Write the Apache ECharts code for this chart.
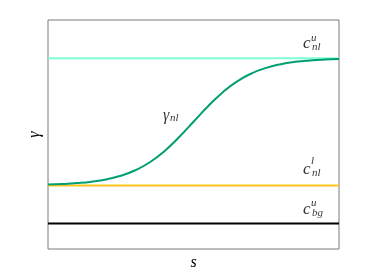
<!DOCTYPE html>
<html><head><meta charset="utf-8">
<script src="https://cdn.jsdelivr.net/npm/echarts@6/dist/echarts.min.js"></script>
<style>html,body{margin:0;padding:0;background:#fff}#c{width:374px;height:280px}</style>
</head><body><div id="c"></div>
<script>
// data (s in [0,1], gamma in [0,1.8])
const sValues = [0,0.05,0.1,0.15,0.2,0.25,0.3,0.35,0.4,0.45,0.5,0.55,0.6,0.65,0.7,0.75,0.8,0.85,0.9,0.95,1];
const gammaNl = [0.507,0.511,0.518,0.529,0.547,0.576,0.619,0.682,0.769,0.878,1.0,1.122,1.231,1.318,1.381,1.424,1.453,1.471,1.482,1.489,1.493];
const cNlUpper = 1.5;
const cNlLower = 0.5;
const cBgUpper = 0.2;
const sRange = [0, 1];
const gammaRange = [0, 1.8];
// label anchors (data space)
const labelAnchors = {
  nlu: [0.876, 1.612],
  nll: [0.876, 0.625],
  bgu: [0.876, 0.31],
  gnl: [0.395, 1.046]
};

const serif = '"Liberation Serif", "DejaVu Serif", serif';
function piece(pt, text, size, offset) {
  return {
    value: pt,
    label: {show: true, formatter: text, position: [0, 0], align: 'left', verticalAlign: 'middle',
      offset: offset, fontFamily: serif, fontStyle: 'italic', fontSize: size, color: '#000'}
  };
}
function hline(v, color) {
  return {type: 'line', data: [[sRange[0], v], [sRange[1], v]], symbol: 'none', silent: true,
    lineStyle: {color: color, width: 2}, z: 2};
}
const chart = echarts.init(document.getElementById('c'), null, {renderer: 'canvas'});
chart.setOption({
  animation: false,
  grid: {left: 48, top: 20, right: 35, bottom: 31, show: true, borderColor: '#7a7a7a', borderWidth: 1,
    containLabel: false, outerBoundsMode: 'none'},
  xAxis: {type: 'value', min: sRange[0], max: sRange[1], axisLine: {show: false}, axisTick: {show: false},
    axisLabel: {show: false}, splitLine: {show: false},
    name: 's', nameLocation: 'middle', nameGap: 6,
    nameTextStyle: {fontFamily: serif, fontStyle: 'italic', fontSize: 16, color: '#000'}},
  yAxis: {type: 'value', min: gammaRange[0], max: gammaRange[1], axisLine: {show: false}, axisTick: {show: false},
    axisLabel: {show: false}, splitLine: {show: false},
    name: 'γ', nameLocation: 'middle', nameGap: 5,
    nameTextStyle: {fontFamily: serif, fontStyle: 'italic', fontSize: 16, color: '#000'}},
  series: [
    hline(cNlUpper, '#7fffd4'),
    hline(cNlLower, '#ffc61a'),
    hline(cBgUpper, '#000000'),
    {type: 'line', data: sValues.map((s, i) => [s, gammaNl[i]]), smooth: true, symbol: 'none', silent: true,
      lineStyle: {color: '#009e73', width: 2}, z: 3},
    {type: 'scatter', symbolSize: 0, silent: true, z: 5, data: [
      piece(labelAnchors.nlu, 'c', 17, [0, 0]),
      piece(labelAnchors.nlu, 'u', 11, [8, -6]),
      piece(labelAnchors.nlu, 'nl', 11, [9, 3]),
      piece(labelAnchors.nll, 'c', 17, [0, 0]),
      piece(labelAnchors.nll, 'l', 11, [8, -8]),
      piece(labelAnchors.nll, 'nl', 11, [9, 4]),
      piece(labelAnchors.bgu, 'c', 17, [0, 0]),
      piece(labelAnchors.bgu, 'u', 11, [8, -6]),
      piece(labelAnchors.bgu, 'bg', 11, [9, 4]),
      piece(labelAnchors.gnl, 'γ', 16, [0, 0]),
      piece(labelAnchors.gnl, 'nl', 11, [7, 2])
    ]}
  ]
});
</script></body></html>
